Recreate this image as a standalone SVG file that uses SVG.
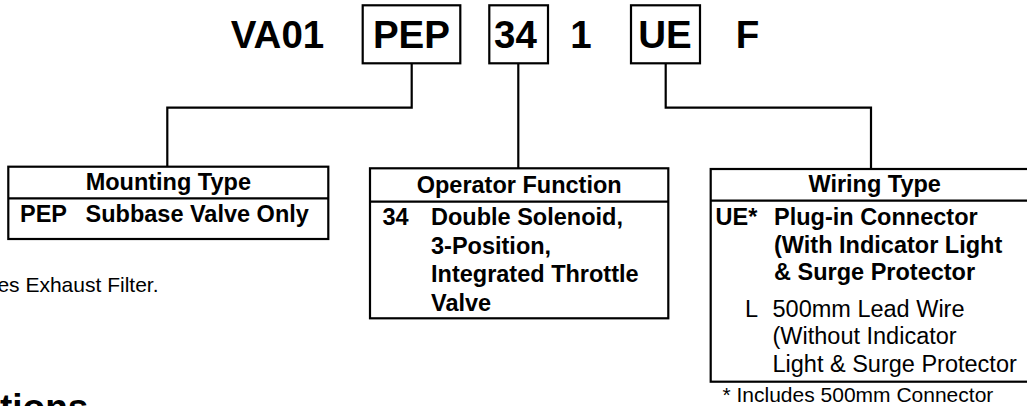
<svg xmlns="http://www.w3.org/2000/svg" width="1027" height="406" viewBox="0 0 1027 406">
<style>
text{font-family:"Liberation Sans",Arial,Helvetica,sans-serif;fill:#000}
.code{font-size:38.5px;font-weight:bold}
.b{font-size:23.5px;font-weight:bold}
.r{font-size:23.5px}
.n{font-size:21px}
.c{text-anchor:middle}
.box{fill:#fff;stroke:#000;stroke-width:2.2}
.div{stroke:#000;stroke-width:2.2}
.conn{fill:none;stroke:#000;stroke-width:2.2}
</style>
<rect width="1027" height="406" fill="#fff"/>
<g id="connectors">
<path class="conn" d="M411.7 63.3 V107.7 H167.3 V166.7"/>
<path class="conn" d="M518.3 63.3 V168.3"/>
<path class="conn" d="M665.7 63.3 V107.7 H871 V169"/>
</g>
<g id="code">
<text class="code c" x="277.5" y="48">VA01</text>
<g id="code-pep"><rect class="box" x="362.7" y="5.3" width="97.6" height="58"/><text class="code c" x="411.4" y="48">PEP</text></g>
<g id="code-34"><rect class="box" x="489.3" y="5.3" width="58.7" height="58"/><text class="code c" x="515.5" y="48">34</text></g>
<text class="code c" x="581" y="48">1</text>
<g id="code-ue"><rect class="box" x="631" y="5.3" width="69" height="58"/><text class="code c" x="665" y="48">UE</text></g>
<text class="code c" x="747.5" y="48">F</text>
</g>
<g id="mounting-type">
<rect class="box" x="8.3" y="166.7" width="320" height="72.3"/>
<line class="div" x1="8.3" y1="198.3" x2="328.3" y2="198.3"/>
<text class="b c" x="168.3" y="190">Mounting Type</text>
<text class="b" x="20" y="221.7">PEP</text>
<text class="b" x="85.5" y="221.7">Subbase Valve Only</text>
</g>
<g id="operator-function">
<rect class="box" x="370" y="168.3" width="298.3" height="150"/>
<line class="div" x1="370" y1="201.7" x2="668.3" y2="201.7"/>
<text class="b c" x="519.2" y="192.7">Operator Function</text>
<text class="b" x="382.5" y="225">34</text>
<text class="b" x="431" y="225">Double Solenoid,</text>
<text class="b" x="431" y="253.5">3-Position,</text>
<text class="b" x="431" y="282">Integrated Throttle</text>
<text class="b" x="431" y="310.5">Valve</text>
</g>
<g id="wiring-type">
<rect class="box" x="710.7" y="169" width="340" height="212.7"/>
<line class="div" x1="710.7" y1="200.7" x2="1050" y2="200.7"/>
<text class="b c" x="874.7" y="191.7">Wiring Type</text>
<text class="b" x="715.5" y="225">UE*</text>
<text class="b" x="774" y="225">Plug-in Connector</text>
<text class="b" x="774" y="252.5">(With Indicator Light</text>
<text class="b" x="774" y="280">&amp; Surge Protector</text>
<text class="r" x="745" y="316.5">L</text>
<text class="r" x="772.5" y="316.5">500mm Lead Wire</text>
<text class="r" x="772.5" y="344">(Without Indicator</text>
<text class="r" x="772.5" y="371.5">Light &amp; Surge Protector</text>
</g>
<g id="notes">
<text class="n" x="722.5" y="401.7">* Includes 500mm Connector</text>
<text class="n" x="158.5" y="291.7" text-anchor="end">es Exhaust Filter.</text>
<text style="font-size:37px;font-weight:bold" x="0" y="419.5">tions</text>
</g>
</svg>
